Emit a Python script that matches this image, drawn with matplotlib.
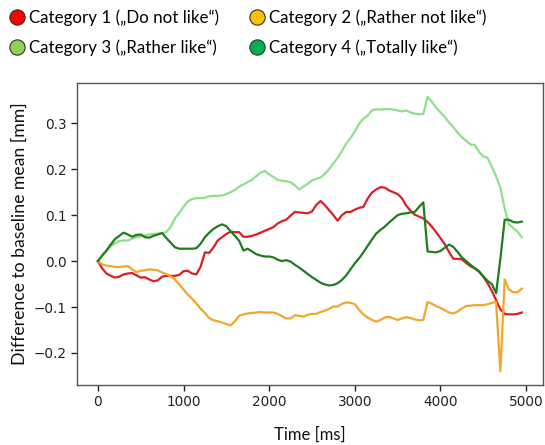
import matplotlib
matplotlib.use("Agg")
import matplotlib.pyplot as plt
from matplotlib.lines import Line2D
import numpy as np

time_ms = list(range(0, 5000, 50))

cat1 = [0, -0.016, -0.027, -0.032, -0.036, -0.034, -0.029, -0.027, -0.026, -0.031,
        -0.036, -0.035, -0.040, -0.044, -0.042, -0.034, -0.032, -0.032, -0.032, -0.030,
        -0.022, -0.021, -0.027, -0.029, -0.012, 0.019, 0.018, 0.030, 0.045, 0.052,
        0.059, 0.064, 0.063, 0.063, 0.053, 0.053, 0.055, 0.058, 0.062, 0.066,
        0.070, 0.074, 0.082, 0.087, 0.090, 0.099, 0.107, 0.106, 0.105, 0.104,
        0.108, 0.122, 0.131, 0.122, 0.111, 0.100, 0.088, 0.100, 0.107, 0.107,
        0.112, 0.116, 0.118, 0.136, 0.149, 0.156, 0.161, 0.160, 0.154, 0.150,
        0.146, 0.137, 0.121, 0.110, 0.101, 0.097, 0.093, 0.085, 0.075, 0.063,
        0.050, 0.037, 0.020, 0.005, 0.005, 0.004, -0.004, -0.011, -0.016, -0.023,
        -0.034, -0.048, -0.065, -0.085, -0.105, -0.115, -0.116, -0.116, -0.115, -0.112]

cat2 = [0, -0.007, -0.010, -0.011, -0.013, -0.013, -0.012, -0.011, -0.018, -0.024,
        -0.021, -0.020, -0.018, -0.019, -0.020, -0.025, -0.028, -0.033, -0.040, -0.051,
        -0.062, -0.073, -0.082, -0.092, -0.104, -0.113, -0.124, -0.129, -0.131, -0.134,
        -0.137, -0.140, -0.131, -0.119, -0.116, -0.114, -0.113, -0.112, -0.111, -0.112,
        -0.112, -0.112, -0.115, -0.120, -0.125, -0.125, -0.118, -0.119, -0.121, -0.117,
        -0.115, -0.115, -0.111, -0.108, -0.104, -0.099, -0.099, -0.093, -0.090, -0.091,
        -0.094, -0.106, -0.116, -0.123, -0.128, -0.132, -0.128, -0.123, -0.121, -0.125,
        -0.128, -0.125, -0.122, -0.124, -0.127, -0.129, -0.128, -0.089, -0.093, -0.098,
        -0.102, -0.107, -0.112, -0.114, -0.110, -0.103, -0.098, -0.097, -0.096, -0.096,
        -0.096, -0.094, -0.091, -0.089, -0.240, -0.040, -0.062, -0.068, -0.068, -0.060]

cat3 = [0, 0.012, 0.022, 0.032, 0.039, 0.044, 0.045, 0.045, 0.049, 0.052,
        0.054, 0.056, 0.058, 0.059, 0.060, 0.061, 0.063, 0.075, 0.093, 0.105,
        0.118, 0.130, 0.135, 0.137, 0.137, 0.138, 0.141, 0.142, 0.142, 0.143,
        0.146, 0.150, 0.155, 0.162, 0.167, 0.172, 0.177, 0.185, 0.193, 0.196,
        0.189, 0.183, 0.177, 0.175, 0.174, 0.172, 0.165, 0.156, 0.162, 0.168,
        0.176, 0.179, 0.182, 0.190, 0.200, 0.213, 0.225, 0.240, 0.256, 0.268,
        0.282, 0.299, 0.310, 0.317, 0.328, 0.331, 0.330, 0.331, 0.331, 0.330,
        0.328, 0.326, 0.328, 0.324, 0.321, 0.320, 0.320, 0.358, 0.347, 0.334,
        0.324, 0.314, 0.302, 0.292, 0.280, 0.270, 0.262, 0.254, 0.253, 0.238,
        0.228, 0.225, 0.205, 0.185, 0.160, 0.115, 0.080, 0.072, 0.064, 0.052]

cat4 = [0, 0.012, 0.023, 0.036, 0.048, 0.055, 0.062, 0.058, 0.053, 0.057,
        0.058, 0.052, 0.051, 0.055, 0.058, 0.061, 0.050, 0.040, 0.030, 0.027,
        0.027, 0.027, 0.027, 0.028, 0.038, 0.052, 0.062, 0.070, 0.076, 0.080,
        0.076, 0.065, 0.055, 0.044, 0.023, 0.027, 0.021, 0.015, 0.012, 0.010,
        0.010, 0.008, 0.003, 0.000, 0.002, -0.001, -0.008, -0.014, -0.021, -0.028,
        -0.035, -0.041, -0.047, -0.051, -0.053, -0.052, -0.048, -0.041, -0.031, -0.018,
        -0.005, 0.006, 0.019, 0.033, 0.047, 0.060, 0.068, 0.075, 0.084, 0.092,
        0.100, 0.103, 0.104, 0.106, 0.107, 0.118, 0.128, 0.021, 0.020, 0.019,
        0.022, 0.029, 0.036, 0.031, 0.020, 0.008, 0.000, -0.008, -0.015, -0.022,
        -0.033, -0.043, -0.050, -0.070, 0.005, 0.090, 0.090, 0.085, 0.084, 0.086]

labels = ["Category 1 (\u201eDo not like\u201c)", "Category 2 (\u201eRather not like\u201c)",
          "Category 3 (\u201eRather like\u201c)", "Category 4 (\u201eTotally like\u201c)"]
line_colors = ["#dc1e24", "#f3a72a", "#8ee08a", "#1e7d1e"]
marker_colors = ["#ff0000", "#ffc000", "#92d050", "#00b050"]

fig = plt.figure(figsize=(5.45, 4.45), dpi=100)
ax = fig.add_axes([0.1407, 0.1348, 0.8556, 0.6787])

series = [cat1, cat2, cat3, cat4]
for idx in [2, 1, 0, 3]:
    ax.plot(time_ms, series[idx], color=line_colors[idx], lw=1.6, zorder=2 + idx)

ax.set_xticks([0, 1000, 2000, 3000, 4000, 5000])
ax.set_yticks([-0.2, -0.1, 0.0, 0.1, 0.2, 0.3])
ax.tick_params(labelsize=9.8, colors="#222222", length=4, width=1)
for s in ax.spines.values():
    s.set_color("#555555")
    s.set_linewidth(1.0)

ax.set_xlabel("Time [ms]", fontsize=12, family="Lato", color="#111111", labelpad=12)
ax.set_ylabel("Difference to baseline mean [mm]", fontsize=12.7, family="Lato",
              color="#111111", labelpad=4)

handles = [Line2D([], [], marker="o", ls="none", markersize=11,
                  markerfacecolor=marker_colors[i], markeredgecolor="#333333",
                  markeredgewidth=0.8) for i in range(4)]
order = [0, 2, 1, 3]  # column-wise fill -> rows: (1,2), (3,4)
fig.legend([handles[i] for i in order], [labels[i] for i in order],
           loc="upper left", bbox_to_anchor=(0.0, 1.0), ncol=2,
           frameon=False, prop={"family": "Lato", "size": 12.2},
           handlelength=0.9, handletextpad=0.25, columnspacing=1.8,
           labelspacing=0.78, borderaxespad=0.15)

fig.savefig("out.png", dpi=100)
